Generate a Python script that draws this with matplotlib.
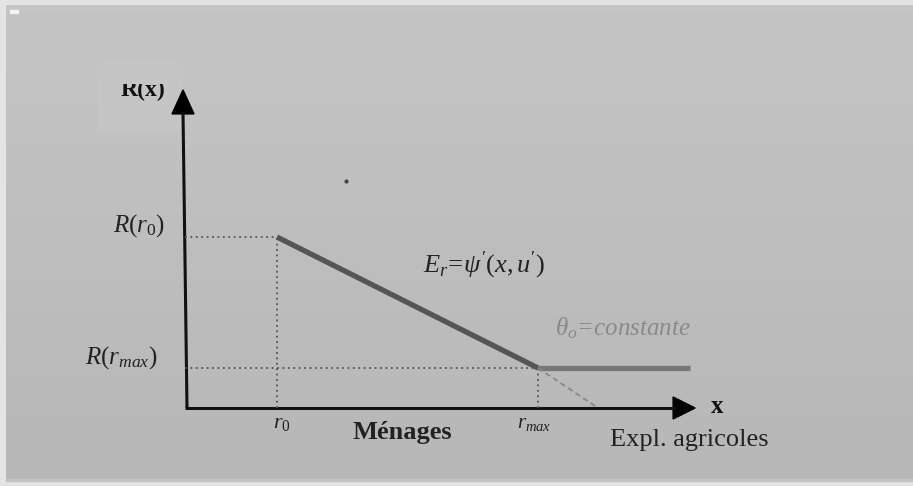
import matplotlib.pyplot as plt
import matplotlib.transforms as mtransforms
from matplotlib.patches import Rectangle, FancyArrow
import numpy as np

# axis coordinates measured from the origin of the sketch (pixel-like units)
x_axis_end = 510
y_axis_end = 320
r0 = 92
r_max = 353
R_r0 = 171
R_rmax = 40
x_flat_end = 505
x_dash_end = 413

tick_labels_x = ["$r_0$", "$r_{max}$"]
tick_labels_y = ["$R(r_0)$", "$R(r_{max})$"]

W, H = 913, 486
ox, oy = 185, 78  # origin pixel (from left, from bottom)

fig = plt.figure(figsize=(W / 100, H / 100), dpi=100)
fig.patch.set_facecolor("#e4e4e4")

# gradient panel
bg = fig.add_axes([0, 0, 1, 1])
bg.set_xlim(0, W)
bg.set_ylim(0, H)
bg.axis("off")
grad = np.linspace(0.715, 0.77, 100).reshape(-1, 1)
bg.imshow(grad, cmap="gray", vmin=0, vmax=1, aspect="auto",
          extent=[6, W, 5, H - 6], origin="lower", zorder=0)
bg.add_patch(Rectangle((6, 5), W - 6, 2, color="#c4c4c4", zorder=1))
bg.add_patch(Rectangle((10, H - 13), 8, 3, color="#f4f4f4", zorder=1))
bg.add_patch(Rectangle((97, H - 130), 85, 68, color="#c5c5c5", zorder=1))

ax = fig.add_axes([0, 0, 1, 1])
ax.set_xlim(-ox, W - ox)
ax.set_ylim(-oy, H - oy)
ax.axis("off")
ax.patch.set_alpha(0)

# axes with arrow heads
ax.plot([0, x_axis_end - 20], [0, 0], color="#111111", lw=2.2, solid_capstyle="butt")
ax.add_patch(FancyArrow(x_axis_end - 22, 0, 0.1, 0, width=0, head_width=22,
                        head_length=22, color="#000000", length_includes_head=False))
ax.plot([2, -2], [0, y_axis_end - 24], color="#111111", lw=2.2, solid_capstyle="butt")
ax.add_patch(FancyArrow(-2, y_axis_end - 26, 0, 0.1, width=0, head_width=22,
                        head_length=24, color="#000000", length_includes_head=False))

# dotted guides
dot = dict(color="#555555", lw=1.3, linestyle=(0, (1, 2)))
ax.plot([0, r0], [R_r0, R_r0], **dot)
ax.plot([r0, r0], [0, R_r0], **dot)
ax.plot([0, r_max], [R_rmax, R_rmax], **dot)
ax.plot([r_max, r_max], [0, R_rmax], **dot)

# bid-rent curves
ax.plot([r0, r_max], [R_r0, R_rmax], color="#555555", lw=3.8, solid_capstyle="butt")
ax.plot([r_max, x_flat_end], [R_rmax, R_rmax], color="#777777", lw=3.8,
        solid_capstyle="butt")
ax.plot([r_max, x_dash_end], [R_rmax, 0], color="#888888", lw=1.3,
        linestyle=(0, (3, 2)))
ax.plot([r0 + 69], [R_r0 + 56], marker="o", ms=2, color="#444444")

serif = ["Liberation Serif", "DejaVu Serif"]
plt.rcParams["mathtext.fontset"] = "custom"
plt.rcParams["mathtext.it"] = "Liberation Serif:italic"
plt.rcParams["mathtext.rm"] = "Liberation Serif"

ax.text(-20, R_r0 + 11, tick_labels_y[0], ha="right", va="center", fontsize=18,
        color="#222222", family=serif)
ax.text(-28, R_rmax + 10, tick_labels_y[1], ha="right", va="center", fontsize=18,
        color="#222222", family=serif)
ax.text(r0 + 5, -15, tick_labels_x[0], ha="center", va="center", fontsize=16,
        color="#222222", family=serif)
ax.text(r_max - 4, -15, tick_labels_x[1], ha="center", va="center", fontsize=15,
        color="#222222", family=serif)
ax.text(217, -24, "Ménages", ha="center", va="center", fontsize=19, weight="bold",
        color="#222222", family=serif)
ax.text(x_axis_end + 16, 2, "x", ha="left", va="center", fontsize=18, weight="bold",
        color="#111111", family=serif)
ax.text(425, -32, "Expl. agricoles", ha="left", va="center", fontsize=19,
        color="#222222", family=serif)
ax.text(238, R_r0 - 28, "$E_r\\!=\\!\\psi'(x,u')$", ha="left", va="center", fontsize=19,
        color="#222222", family=serif)
ax.text(370, R_rmax + 40, "$\\theta_o$=constante", ha="left", va="center", fontsize=18,
        color="#8a8a8a", family=serif, style="italic")

t = ax.text(-20, y_axis_end - 2, "R(x)", ha="right", va="center", fontsize=17,
            weight="bold", color="#111111", family=serif)
clip = mtransforms.Bbox.from_extents(0, 0, W, H - 84)
t.set_clip_box(mtransforms.TransformedBbox(clip, mtransforms.IdentityTransform()))
t.set_clip_on(True)

fig.savefig("out.png", dpi=100, facecolor=fig.get_facecolor())
